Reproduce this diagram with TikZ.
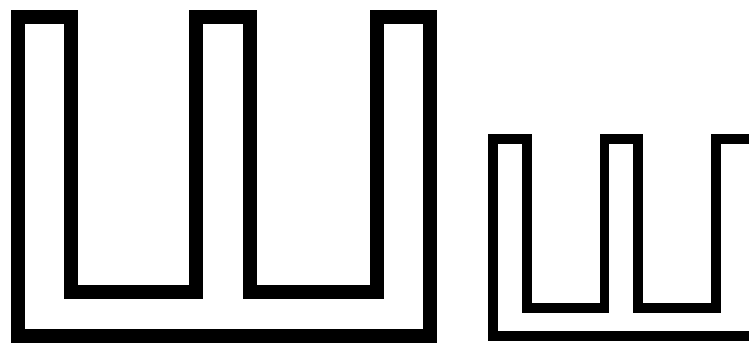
\documentclass[tikz,border=0pt]{standalone}
\begin{document}
\begin{tikzpicture}[x=1pt,y=-1pt,
  bigshape/.style={draw=black,line width=14pt,line join=miter},
  smallshape/.style={draw=black,line width=9.5pt,line join=miter}]
\useasboundingbox (0,0) rectangle (749,343);
\clip (0,0) rectangle (749,343);
\fill[white] (0,0) rectangle (749,343);
% large outlined letter
\draw[bigshape] (18,335.5) -- (18,17) -- (71,17) -- (71,291.5) -- (196,291.5) -- (196,17)
  -- (249.5,17) -- (249.5,291.5) -- (376.5,291.5) -- (376.5,17) -- (430,17) -- (430,335.5) -- cycle;
% small outlined letter (cut by the right border)
\draw[smallshape] (493,336) -- (493,139) -- (527,139) -- (527,308) -- (604.5,308) -- (604.5,139)
  -- (638,139) -- (638,308) -- (716,308) -- (716,139) -- (765,139) -- (765,336) -- cycle;
\end{tikzpicture}
\end{document}
